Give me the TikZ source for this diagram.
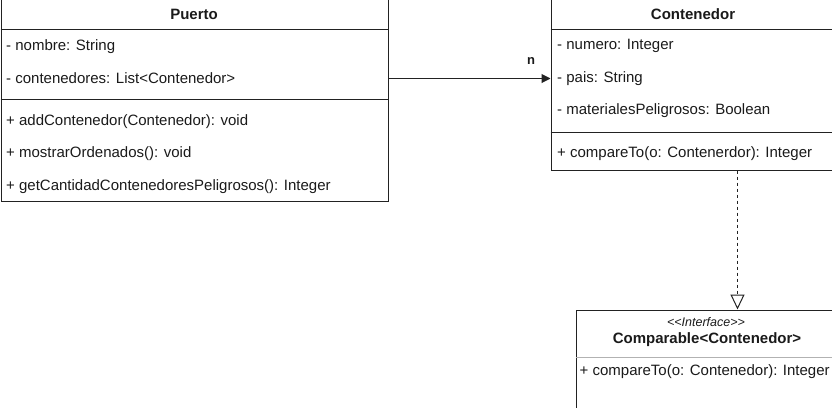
\documentclass[tikz,border=0pt]{standalone}
\usepackage{fontspec}
\setmainfont{Liberation Sans}
\usetikzlibrary{arrows.meta}
\definecolor{ink}{HTML}{222222}
\definecolor{txt}{HTML}{1A1A1A}
\begin{document}
\begin{tikzpicture}[x=1pt,y=-1pt,
  umlbox/.style={draw=ink,line width=1pt,rectangle,inner sep=0pt,anchor=north west},
  member/.style={anchor=west,inner sep=0pt,text=txt,font=\fontsize{15}{18}\selectfont},
  title/.style={inner sep=0pt,text=txt,font=\bfseries\fontsize{15}{18}\selectfont},
  sep/.style={draw=ink,line width=1pt},
]
\useasboundingbox (0,0) rectangle (832,407);
% Puerto
\node[umlbox,minimum width=387pt,minimum height=203pt] (puerto) at (0.5,-2) {};
\draw[sep] (0.5,29.5) -- (387.5,29.5);
\draw[sep] (0.5,99.5) -- (387.5,99.5);
\node[title] (pt) at (194,14) {Puerto};
\node[member] (p1) at (6,46.5) {- nombre: String};
\node[member] (p2) at (6,78.5) {- contenedores: List<Contenedor>};
\node[member] (p3) at (6,122) {+ addContenedor(Contenedor): void};
\node[member] (p4) at (6,154) {+ mostrarOrdenados(): void};
\node[member] (p5) at (6,187) {+ getCantidadContenedoresPeligrosos(): Integer};
% Contenedor
\node[umlbox,minimum width=300pt,minimum height=171.5pt] (cont) at (550.5,-2) {};
\draw[sep] (550.5,29.5) -- (850,29.5);
\draw[sep] (550.5,132.5) -- (850,132.5);
\node[title] (ct) at (693,14) {Contenedor};
\node[member] (c1) at (557,46) {- numero: Integer};
\node[member] (c2) at (557,79) {- pais: String};
\node[member] (c3) at (557,111) {- materialesPeligrosos: Boolean};
\node[member] (c4) at (557,154) {+ compareTo(o: Contenerdor): Integer};
% Interface
\node[umlbox,minimum width=280pt,minimum height=120pt] (iface) at (575.5,309.5) {};
\draw[draw=gray!60,line width=1pt] (575.5,357.5) -- (850,357.5);
\node[inner sep=0pt,text=txt,font=\itshape\fontsize{12.5}{15}\selectfont] (st) at (706,322.5) {<\kern0pt<Interface>\kern0pt>};
\node[title] (it) at (707,340) {Comparable<Contenedor>};
\node[member] (i1) at (579.5,372) {+ compareTo(o: Contenedor): Integer};
% association
\coordinate (assocy) at (0,78.5);
\draw[ink,line width=1pt,-{Triangle[length=9pt,width=9pt]}] (puerto.east |- assocy) -- (cont.west |- assocy);
\node[inner sep=0pt,text=txt,font=\bfseries\fontsize{13}{15}\selectfont] (n) at (531,61) {n};
% realization
\coordinate (realx) at (737.5,0);
\draw[ink,line width=1pt,dash pattern=on 3pt off 3pt,-{Triangle[open,length=15pt,width=14pt,fill=white]}] (cont.south -| realx) -- (iface.north -| realx);
\end{tikzpicture}
\end{document}
